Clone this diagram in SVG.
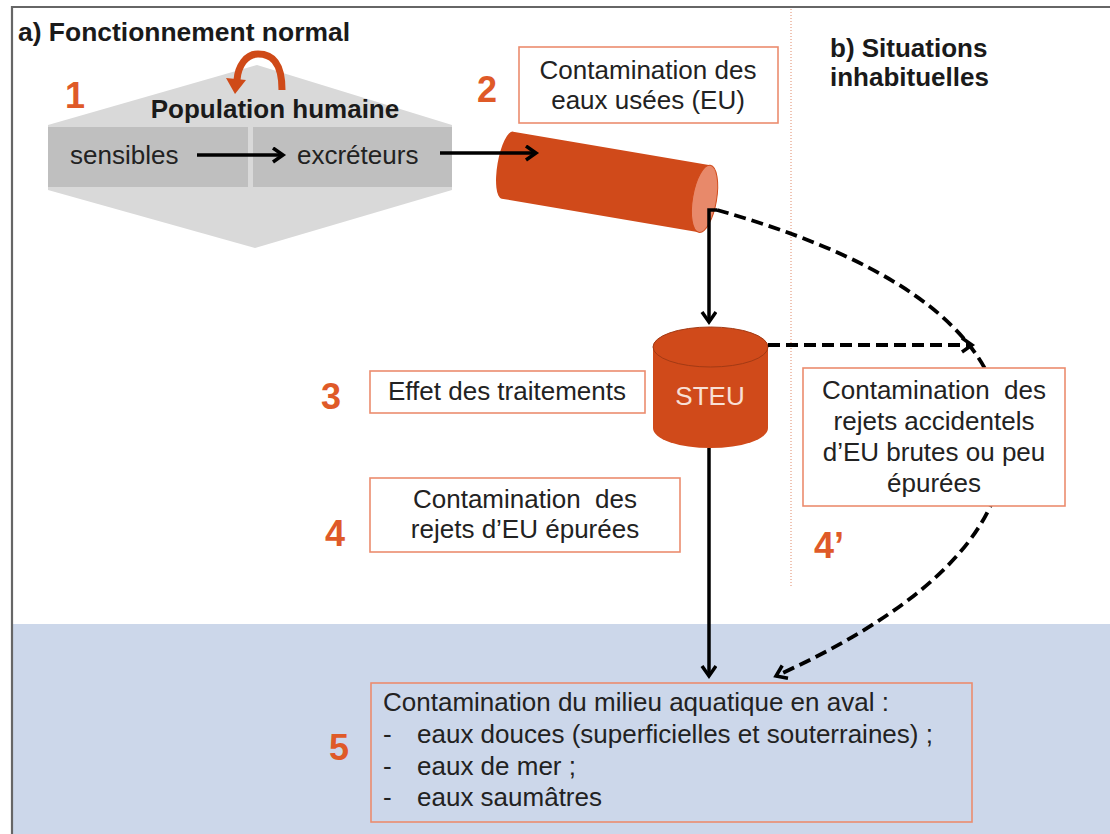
<svg xmlns="http://www.w3.org/2000/svg" width="1110" height="834" viewBox="0 0 1110 834">
<style>
text{font-family:"Liberation Sans",Arial,sans-serif;}
.t{font-size:26px;fill:#222;}
.b{font-size:26px;font-weight:bold;fill:#1a1a1a;}
.num{font-size:36px;font-weight:bold;fill:#df5a28;}
.box{fill:#fff;stroke:#ec8c6e;stroke-width:1.6;}
.c{text-anchor:middle;}
.pre{white-space:pre;}
.ln{fill:none;stroke:#000;stroke-width:3.5;}
.dash{fill:none;stroke:#000;stroke-width:3.8;stroke-dasharray:12 6;}
</style>
<defs>
<marker id="ah" markerUnits="userSpaceOnUse" markerWidth="20" markerHeight="20" refX="12" refY="8" orient="auto">
<path d="M2,1 L12,8 L2,15" fill="none" stroke="#000" stroke-width="3.5"/>
</marker>
</defs>
<rect x="0" y="0" width="1110" height="834" fill="#fff"/>
<rect x="13" y="624" width="1097" height="210" fill="#ccd7ea"/>
<path d="M12,834 L12,7 L1110,7" fill="none" stroke="#666" stroke-width="2.2"/>
<line x1="791" y1="9" x2="791" y2="587" stroke="#e08a6a" stroke-width="1" stroke-dasharray="1 2"/>

<g id="titles">
<text class="b" x="18" y="41" textLength="332" lengthAdjust="spacingAndGlyphs">a) Fonctionnement normal</text>
<text class="b" x="830" y="57">b) Situations</text>
<text class="b" x="830" y="86">inhabituelles</text>
</g>

<g id="numbers">
<text class="num" x="65" y="108">1</text>
<text class="num" x="477" y="102">2</text>
<text class="num" x="321" y="409">3</text>
<text class="num" x="325" y="546">4</text>
<text class="num" x="814" y="558">4’</text>
<text class="num" x="329" y="760">5</text>
</g>

<g id="population">
<polygon points="48,125 257,65 452,125 452,190 255,248 48,190" fill="#d9d9d9"/>
<rect x="48" y="127" width="200" height="60" fill="#bfbfbf"/>
<rect x="253" y="127" width="199" height="60" fill="#bfbfbf"/>
<text class="b c" x="275" y="118">Population humaine</text>
<text class="t" x="70" y="164">sensibles</text>
<text class="t" x="297" y="164">excréteurs</text>
<path d="M282,90 C282,60 270,54 258,54 C246,54 238,66 237,80" fill="none" stroke="#cf4a18" stroke-width="7"/>
<polygon points="226,78 246,80 235,94" fill="#cf4a18"/>
</g>

<g id="pipe" transform="rotate(9.7 606 182)">
<path d="M706,148 L506,148 A10,34 0 0 0 506,216 L706,216 Z" fill="#d04a1a"/>
<ellipse cx="706" cy="182" rx="12" ry="34" fill="#e8896a" stroke="#d04a1a" stroke-width="1"/>
</g>

<g id="steu">
<path d="M653,347 L653,428 A57.5,20 0 0 0 768,428 L768,347 Z" fill="#d04a1a"/>
<ellipse cx="710.5" cy="347" rx="57.5" ry="20" fill="#d04a1a" stroke="#a33a14" stroke-width="1"/>
<text x="710" y="405" font-size="26" fill="#f8e0d6" text-anchor="middle">STEU</text>
</g>

<g id="connectors">
<line class="ln" x1="197" y1="155" x2="283" y2="155" marker-end="url(#ah)"/>
<line class="ln" x1="440" y1="153" x2="536" y2="153" marker-end="url(#ah)"/>
<path class="ln" d="M717,210 L709,210 L709,322" marker-end="url(#ah)"/>
<line class="ln" x1="709" y1="448" x2="709" y2="676" marker-end="url(#ah)"/>
<line class="dash" x1="768" y1="345" x2="972" y2="345" marker-end="url(#ah)"/>
<path class="dash" d="M717,210 C860,250 1005,320 1003,440 C1010,540 900,620 776,676" marker-end="url(#ah)"/>
</g>

<g id="box2">
<rect class="box" x="519" y="47" width="259" height="76"/>
<text class="t c" x="648" y="79">Contamination des</text>
<text class="t c" x="648" y="109">eaux usées (EU)</text>
</g>

<g id="box3">
<rect class="box" x="370" y="371" width="275" height="42"/>
<text class="t c" x="507" y="400">Effet des traitements</text>
</g>

<g id="box4">
<rect class="box" x="370" y="478" width="310" height="74"/>
<text class="t c pre" x="525" y="508">Contamination  des</text>
<text class="t c" x="525" y="538">rejets d’EU épurées</text>
</g>

<g id="box4p">
<rect class="box" x="803" y="368" width="262" height="138"/>
<text class="t c pre" x="934" y="399">Contamination  des</text>
<text class="t c" x="934" y="430">rejets accidentels</text>
<text class="t c" x="934" y="461">d’EU brutes ou peu</text>
<text class="t c" x="934" y="492">épurées</text>
</g>

<g id="box5">
<rect x="371" y="683" width="601" height="139" fill="none" stroke="#ec8c6e" stroke-width="1.6"/>
<text class="t" x="383" y="711">Contamination du milieu aquatique en aval :</text>
<text class="t" x="383" y="743">-</text>
<text class="t" x="417" y="743">eaux douces (superficielles et souterraines) ;</text>
<text class="t" x="383" y="775">-</text>
<text class="t" x="417" y="775">eaux de mer ;</text>
<text class="t" x="383" y="806">-</text>
<text class="t" x="417" y="806">eaux saumâtres</text>
</g>
</svg>
